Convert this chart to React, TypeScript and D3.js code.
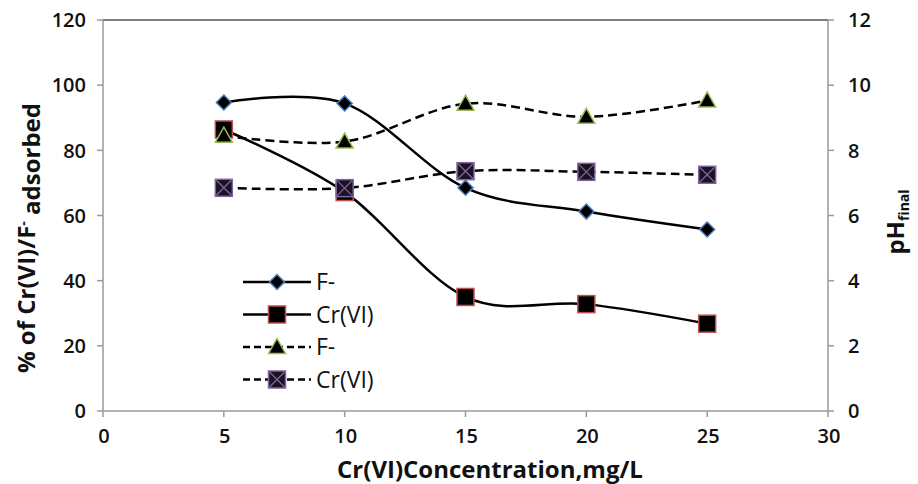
import React, { useEffect, useRef } from 'react';
import * as d3 from 'd3';

// concentration (mg/L)
const conc = [5, 10, 15, 20, 25];
// % adsorbed (left axis)
const fAdsorbed = [94.7, 94.4, 68.5, 61.2, 55.7];
const crAdsorbed = [86.4, 67.2, 35.0, 32.8, 26.8];
// final pH (right axis)
const fPh = [8.45, 8.27, 9.43, 9.03, 9.53];
const crPh = [6.85, 6.84, 7.36, 7.34, 7.25];

const xTicks = [0, 5, 10, 15, 20, 25, 30];
const yTicks = [0, 20, 40, 60, 80, 100, 120];
const y2Ticks = [0, 2, 4, 6, 8, 10, 12];

const W = 918;
const H = 484;
const FONT = '"Open Sans", "DejaVu Sans", sans-serif';

const App: React.FC = () => {
  const svgRef = useRef<SVGSVGElement>(null);

  useEffect(() => {
    if (!svgRef.current) return;
    const svg = d3.select(svgRef.current);
    svg.selectAll('*').remove();

    const left = 103, right = 828, top = 20, bottom = 411;
    const x = d3.scaleLinear().domain([0, 30]).range([left, right]);
    const y = d3.scaleLinear().domain([0, 120]).range([bottom, top]);
    const y2 = d3.scaleLinear().domain([0, 12]).range([bottom, top]);

    const axisColor = '#9a9a9a';

    // frame
    svg.append('line').attr('x1', left).attr('x2', right).attr('y1', top).attr('y2', top)
      .attr('stroke', '#555').attr('stroke-width', 1.5);
    svg.append('line').attr('x1', left).attr('x2', left).attr('y1', top).attr('y2', bottom)
      .attr('stroke', axisColor).attr('stroke-width', 1.5);
    svg.append('line').attr('x1', right).attr('x2', right).attr('y1', top).attr('y2', bottom)
      .attr('stroke', axisColor).attr('stroke-width', 1.5);
    svg.append('line').attr('x1', left).attr('x2', right).attr('y1', bottom).attr('y2', bottom)
      .attr('stroke', axisColor).attr('stroke-width', 1.5);

    // ticks & labels
    yTicks.forEach(t => {
      svg.append('line').attr('x1', left - 6).attr('x2', left).attr('y1', y(t)).attr('y2', y(t))
        .attr('stroke', axisColor).attr('stroke-width', 1.5);
      svg.append('text').attr('x', 86).attr('y', y(t)).attr('dy', '0.36em')
        .attr('text-anchor', 'end').attr('font-family', FONT).attr('font-size', 20)
        .attr('font-weight', 600).attr('fill', '#111').text(t);
    });
    y2Ticks.forEach(t => {
      svg.append('line').attr('x1', right).attr('x2', right + 6).attr('y1', y2(t)).attr('y2', y2(t))
        .attr('stroke', axisColor).attr('stroke-width', 1.5);
      svg.append('text').attr('x', 848).attr('y', y2(t)).attr('dy', '0.36em')
        .attr('text-anchor', 'start').attr('font-family', FONT).attr('font-size', 20)
        .attr('font-weight', 600).attr('fill', '#111').text(t);
    });
    xTicks.forEach(t => {
      svg.append('line').attr('x1', x(t)).attr('x2', x(t)).attr('y1', bottom).attr('y2', bottom + 6)
        .attr('stroke', axisColor).attr('stroke-width', 1.5);
      svg.append('text').attr('x', x(t) + 1).attr('y', 436).attr('dy', '0.36em')
        .attr('text-anchor', 'middle').attr('font-family', FONT).attr('font-size', 20)
        .attr('font-weight', 600).attr('fill', '#111').text(t);
    });

    // axis titles
    svg.append('text').attr('x', 490).attr('y', 469).attr('dy', '0.36em')
      .attr('text-anchor', 'middle').attr('font-family', FONT).attr('font-size', 24)
      .attr('font-weight', 'bold').attr('fill', '#111').text('Cr(VI)Concentration,mg/L');

    const yt = svg.append('text')
      .attr('transform', `translate(26, 238) rotate(-90)`)
      .attr('dy', '0.36em').attr('text-anchor', 'middle').attr('font-family', FONT)
      .attr('font-size', 24).attr('font-weight', 'bold').attr('fill', '#111');
    yt.append('tspan').text('% of Cr(VI)/F');
    yt.append('tspan').attr('dy', '-0.5em').attr('font-size', 14).text('-');
    yt.append('tspan').attr('dy', '0.5em').text(' adsorbed');

    const pt = svg.append('text')
      .attr('transform', `translate(895, 222) rotate(-90)`)
      .attr('dy', '0.36em').attr('text-anchor', 'middle').attr('font-family', FONT)
      .attr('font-size', 24).attr('font-weight', 'bold').attr('fill', '#111');
    pt.append('tspan').text('pH');
    pt.append('tspan').attr('dy', '0.35em').attr('font-size', 14).text('final');

    const line = d3.line<[number, number]>().curve(d3.curveCardinal.tension(0));

    const markers: Record<string, (g: any) => void> = {
      diamond: g => g.append('path').attr('d', 'M0,-7.5L7.5,0L0,7.5L-7.5,0Z')
        .attr('fill', '#000').attr('stroke', '#4a7ebb').attr('stroke-width', 1.5),
      square: g => g.append('rect').attr('x', -8.5).attr('y', -8.5).attr('width', 17).attr('height', 17)
        .attr('fill', '#000').attr('stroke', '#c0504d').attr('stroke-width', 1.5),
      triangle: g => g.append('path').attr('d', 'M0,-8.5L8.5,6.5L-8.5,6.5Z')
        .attr('fill', '#000').attr('stroke', '#9bbb59').attr('stroke-width', 1.5),
      xsquare: g => {
        g.append('rect').attr('x', -8.5).attr('y', -8.5).attr('width', 17).attr('height', 17)
          .attr('fill', '#1a1420').attr('stroke', '#8064a2').attr('stroke-width', 1.5);
        g.append('path').attr('d', 'M-7.5,-7.5L7.5,7.5M7.5,-7.5L-7.5,7.5')
          .attr('stroke', '#8064a2').attr('stroke-width', 1.3);
      },
    };

    const series = [
      { name: 'F-', vals: fAdsorbed, sc: y, dash: null, marker: 'diamond' },
      { name: 'Cr(VI)', vals: crAdsorbed, sc: y, dash: null, marker: 'square' },
      { name: 'F-', vals: fPh, sc: y2, dash: '9,5', marker: 'triangle' },
      { name: 'Cr(VI)', vals: crPh, sc: y2, dash: '9,5', marker: 'xsquare' },
    ];

    series.forEach(s => {
      const pts = conc.map((c, i) => [x(c), s.sc(s.vals[i])] as [number, number]);
      svg.append('path').attr('d', line(pts)).attr('fill', 'none')
        .attr('stroke', '#000').attr('stroke-width', 2.5)
        .attr('stroke-dasharray', s.dash);
    });
    series.forEach(s => {
      conc.forEach((c, i) => {
        const g = svg.append('g').attr('transform', `translate(${x(c)},${s.sc(s.vals[i])})`);
        markers[s.marker](g);
      });
    });

    // legend
    const legendY = [282, 314.5, 347, 379.5];
    series.forEach((s, i) => {
      const g = svg.append('g').attr('transform', `translate(0, ${legendY[i]})`);
      g.append('line').attr('x1', 243).attr('x2', 311).attr('y1', 0).attr('y2', 0)
        .attr('stroke', '#000').attr('stroke-width', 2.5).attr('stroke-dasharray', s.dash ? '7,4' : null);
      const m = g.append('g').attr('transform', 'translate(277,0)');
      markers[s.marker](m);
      g.append('text').attr('x', 316).attr('y', 0).attr('dy', '0.36em')
        .attr('font-family', FONT).attr('font-size', 23).attr('fill', '#111').text(s.name);
    });
  }, []);

  return (
    <svg ref={svgRef} width={W} height={H}
      style={{ position: 'absolute', left: 0, top: 0, background: '#fff' }} />
  );
};

export default App;
